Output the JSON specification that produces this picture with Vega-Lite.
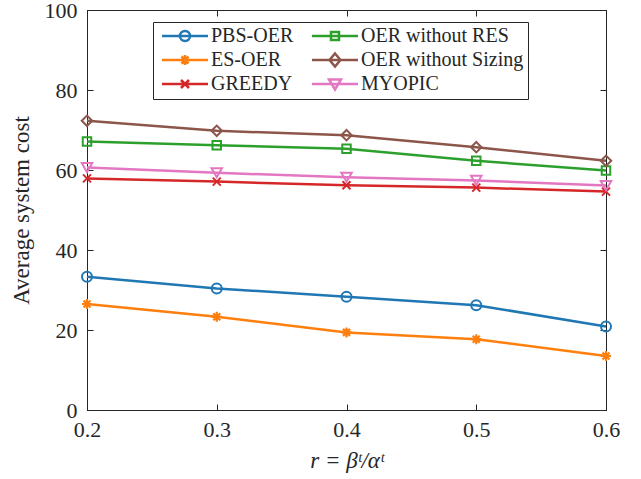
{
  "$schema": "https://vega.github.io/schema/vega-lite/v6.json",
  "width": 519,
  "height": 400,
  "autosize": {"type": "none"},
  "padding": {"left": 87, "top": 10, "right": 35, "bottom": 69},
  "background": "white",
  "config": {
    "font": "Liberation Serif",
    "view": {"stroke": "#262626", "strokeWidth": 1},
    "axis": {"grid": false, "labelFlush": false, "domainColor": "#262626", "tickColor": "#262626", "labelColor": "#262626", "titleColor": "#262626", "labelFont": "Liberation Serif", "titleFont": "Liberation Serif", "labelFontSize": 22, "titleFontSize": 23, "titleFontWeight": "normal", "tickSize": -6, "domainWidth": 1, "tickWidth": 1},
    "legend": {"orient": "none", "legendX": 66, "legendY": 12, "columns": 2, "title": null,
               "strokeColor": "#262626", "fillColor": "white", "padding": 4, "rowPadding": 2, "columnPadding": 13,
               "labelFont": "Liberation Serif", "labelFontSize": 20, "labelColor": "#262626", "labelOffset": 34, "labelLimit": 400,
               "symbolSize": 100, "symbolStrokeWidth": 2.5}
  },
  "data": {"values": [
    {"r": 0.2, "method": "PBS-OER", "cost": 33.3},
    {"r": 0.3, "method": "PBS-OER", "cost": 30.4},
    {"r": 0.4, "method": "PBS-OER", "cost": 28.3},
    {"r": 0.5, "method": "PBS-OER", "cost": 26.2},
    {"r": 0.6, "method": "PBS-OER", "cost": 20.9},
    {"r": 0.2, "method": "ES-OER", "cost": 26.5},
    {"r": 0.3, "method": "ES-OER", "cost": 23.3},
    {"r": 0.4, "method": "ES-OER", "cost": 19.4},
    {"r": 0.5, "method": "ES-OER", "cost": 17.7},
    {"r": 0.6, "method": "ES-OER", "cost": 13.5},
    {"r": 0.2, "method": "GREEDY", "cost": 57.9},
    {"r": 0.3, "method": "GREEDY", "cost": 57.1},
    {"r": 0.4, "method": "GREEDY", "cost": 56.2},
    {"r": 0.5, "method": "GREEDY", "cost": 55.6},
    {"r": 0.6, "method": "GREEDY", "cost": 54.6},
    {"r": 0.2, "method": "OER without RES", "cost": 67.1},
    {"r": 0.3, "method": "OER without RES", "cost": 66.2},
    {"r": 0.4, "method": "OER without RES", "cost": 65.3},
    {"r": 0.5, "method": "OER without RES", "cost": 62.3},
    {"r": 0.6, "method": "OER without RES", "cost": 59.9},
    {"r": 0.2, "method": "OER without Sizing", "cost": 72.3},
    {"r": 0.3, "method": "OER without Sizing", "cost": 69.8},
    {"r": 0.4, "method": "OER without Sizing", "cost": 68.7},
    {"r": 0.5, "method": "OER without Sizing", "cost": 65.7},
    {"r": 0.6, "method": "OER without Sizing", "cost": 62.3},
    {"r": 0.2, "method": "MYOPIC", "cost": 60.6},
    {"r": 0.3, "method": "MYOPIC", "cost": 59.3},
    {"r": 0.4, "method": "MYOPIC", "cost": 58.2},
    {"r": 0.5, "method": "MYOPIC", "cost": 57.4},
    {"r": 0.6, "method": "MYOPIC", "cost": 56.1}
  ]},
  "layer": [
    {
      "mark": {"type": "line", "strokeWidth": 2.5},
      "encoding": {
        "x": {"field": "r", "type": "quantitative", "scale": {"domain": [0.2, 0.6], "nice": false, "zero": false},
              "axis": {"orient": "bottom", "values": [0.2, 0.3, 0.4, 0.5, 0.6], "format": ".1f", "labelPadding": 15, "title": "r = βᵗ/αᵗ", "titleFontStyle": "italic", "titlePadding": 9}},
        "y": {"field": "cost", "type": "quantitative", "scale": {"domain": [0, 100], "nice": false},
              "axis": {"orient": "left", "values": [0, 20, 40, 60, 80, 100], "labelPadding": 16, "title": "Average system cost", "titlePadding": 11}},
        "color": {"field": "method", "type": "nominal",
                  "scale": {"domain": ["PBS-OER", "ES-OER", "GREEDY", "OER without RES", "OER without Sizing", "MYOPIC"],
                            "range": ["#1f77b4", "#ff7f0e", "#d62728", "#2ca02c", "#8c564b", "#e377c2"]}}
      }
    },
    {
      "transform": [{"filter": "datum.method === 'PBS-OER'"}],
      "mark": {"type": "point", "filled": false, "strokeWidth": 2, "size": 100, "opacity": 1, "shape": "circle", "color": "#1f77b4"},
      "encoding": {
        "x": {"field": "r", "type": "quantitative", "scale": {"domain": [0.2, 0.6], "nice": false, "zero": false},
              "axis": {"orient": "top", "values": [0.2, 0.3, 0.4, 0.5, 0.6], "labels": false, "title": null}},
        "y": {"field": "cost", "type": "quantitative", "scale": {"domain": [0, 100], "nice": false},
              "axis": {"orient": "right", "values": [0, 20, 40, 60, 80, 100], "labels": false, "title": null}}
      }
    },
    {
      "transform": [{"filter": "datum.method === 'ES-OER'"}],
      "mark": {"type": "point", "filled": false, "strokeWidth": 2.2, "size": 100, "opacity": 1, "shape": "M0,-1V1M-1,0H1M-0.7,-0.7L0.7,0.7M-0.7,0.7L0.7,-0.7", "color": "#ff7f0e"},
      "encoding": {
        "x": {"field": "r", "type": "quantitative", "axis": null},
        "y": {"field": "cost", "type": "quantitative", "axis": null}
      }
    },
    {
      "transform": [{"filter": "datum.method === 'GREEDY'"}],
      "mark": {"type": "point", "filled": false, "strokeWidth": 2, "size": 64, "opacity": 1, "shape": "M-1,-1L1,1M-1,1L1,-1", "color": "#d62728"},
      "encoding": {
        "x": {"field": "r", "type": "quantitative", "axis": null},
        "y": {"field": "cost", "type": "quantitative", "axis": null}
      }
    },
    {
      "transform": [{"filter": "datum.method === 'OER without RES'"}],
      "mark": {"type": "point", "filled": false, "strokeWidth": 2, "size": 72, "opacity": 1, "shape": "square", "color": "#2ca02c"},
      "encoding": {
        "x": {"field": "r", "type": "quantitative", "axis": null},
        "y": {"field": "cost", "type": "quantitative", "axis": null}
      }
    },
    {
      "transform": [{"filter": "datum.method === 'OER without Sizing'"}],
      "mark": {"type": "point", "filled": false, "strokeWidth": 2, "size": 110, "opacity": 1, "shape": "diamond", "color": "#8c564b"},
      "encoding": {
        "x": {"field": "r", "type": "quantitative", "axis": null},
        "y": {"field": "cost", "type": "quantitative", "axis": null}
      }
    },
    {
      "transform": [{"filter": "datum.method === 'MYOPIC'"}],
      "mark": {"type": "point", "filled": false, "strokeWidth": 2, "size": 110, "opacity": 1, "shape": "triangle-down", "color": "#e377c2"},
      "encoding": {
        "x": {"field": "r", "type": "quantitative", "axis": null},
        "y": {"field": "cost", "type": "quantitative", "axis": null}
      }
    },
    {
      "transform": [{"filter": "datum.cost < 0"}],
      "mark": {"type": "point", "filled": false, "strokeWidth": 2.5, "size": 100, "opacity": 1},
      "encoding": {
        "x": {"field": "r", "type": "quantitative", "axis": null},
        "y": {"field": "cost", "type": "quantitative", "axis": null},
        "color": {"field": "method", "type": "nominal",
                  "scale": {"domain": ["PBS-OER", "ES-OER", "GREEDY", "OER without RES", "OER without Sizing", "MYOPIC"],
                            "range": ["#1f77b4", "#ff7f0e", "#d62728", "#2ca02c", "#8c564b", "#e377c2"]}},
        "shape": {"field": "method", "type": "nominal",
                  "scale": {"domain": ["PBS-OER", "ES-OER", "GREEDY", "OER without RES", "OER without Sizing", "MYOPIC"],
                            "range": ["M-1,0H8.2M4.6,0A1,1 0 1,1 2.6,0A1,1 0 1,1 4.6,0", "M-1,0H8.2M3.6,-1V1M2.6,0H4.6M2.9,-0.7L4.3,0.7M2.9,0.7L4.3,-0.7", "M-1,0H8.2M2.8,-0.8L4.4,0.8M2.8,0.8L4.4,-0.8", "M-1,0H8.2M2.8,-0.8H4.4V0.8H2.8Z", "M-1,0H8.2M3.6,-1.3L4.7,0L3.6,1.3L2.5,0Z", "M-1,0H8.2M2.4,-0.9H4.8L3.6,1.1Z"]}}
      }
    }
  ],
  "resolve": {"axis": {"x": "independent", "y": "independent"}}
}
